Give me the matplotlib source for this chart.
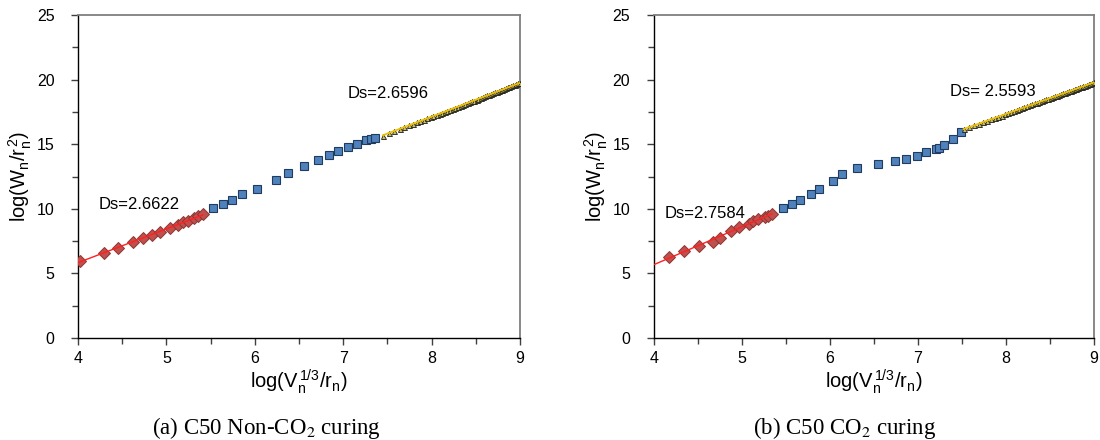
import numpy as np
import matplotlib
matplotlib.use("Agg")
import matplotlib.pyplot as plt
from matplotlib.ticker import MultipleLocator

plt.rcParams['font.family'] = ['Liberation Sans', 'DejaVu Sans']
plt.rcParams['mathtext.fontset'] = 'custom'
plt.rcParams['mathtext.rm'] = 'Liberation Sans'
plt.rcParams['mathtext.it'] = 'Liberation Sans'

# ---------------- Panel (a) C50 Non-CO2 curing ----------------
a_dia_x = [4.02, 4.29, 4.45, 4.62, 4.73, 4.84, 4.93, 5.04, 5.13, 5.19, 5.25, 5.31, 5.36, 5.41]
a_dia_y = [5.98, 6.58, 6.97, 7.43, 7.74, 7.97, 8.23, 8.49, 8.77, 8.95, 9.08, 9.26, 9.44, 9.60]

a_sq_x = [5.53, 5.64, 5.74, 5.86, 6.03, 6.24, 6.38, 6.56, 6.72, 6.84, 6.94, 7.06, 7.16, 7.26, 7.31, 7.36]
a_sq_y = [10.06, 10.40, 10.70, 11.12, 11.51, 12.23, 12.77, 13.31, 13.80, 14.19, 14.50, 14.81, 15.02, 15.30, 15.38, 15.50]

a_tri_x = [7.45, 7.52, 7.58, 7.64, 7.69, 7.74, 7.79, 7.83, 7.87, 7.91, 7.95, 7.99, 8.02, 8.06,
           8.09, 8.12, 8.15, 8.18, 8.21, 8.24, 8.27, 8.30, 8.33, 8.35, 8.38, 8.41, 8.43, 8.46,
           8.48, 8.51, 8.53, 8.56, 8.58, 8.60, 8.63, 8.65, 8.67, 8.69, 8.72, 8.74, 8.76, 8.78,
           8.80, 8.82, 8.84, 8.86, 8.88, 8.90, 8.92, 8.94, 8.96, 8.98, 9.00]
a_tri_y = [15.66, 15.88, 16.04, 16.20, 16.33, 16.47, 16.58, 16.70, 16.79, 16.90, 17.01, 17.11, 17.18, 17.29,
           17.37, 17.45, 17.53, 17.60, 17.68, 17.76, 17.83, 17.91, 17.99, 18.05, 18.12, 18.19, 18.25, 18.33,
           18.38, 18.46, 18.51, 18.59, 18.64, 18.70, 18.78, 18.83, 18.88, 18.94, 19.02, 19.07, 19.12, 19.17,
           19.23, 19.28, 19.33, 19.39, 19.44, 19.49, 19.55, 19.60, 19.65, 19.70, 19.76]

a_ds_low = "Ds=2.6622"
a_ds_high = "Ds=2.6596"

# ---------------- Panel (b) C50 CO2 curing ----------------
b_dia_x = [4.17, 4.34, 4.51, 4.67, 4.75, 4.87, 4.97, 5.08, 5.13, 5.18, 5.26, 5.30, 5.34]
b_dia_y = [6.27, 6.76, 7.12, 7.43, 7.76, 8.26, 8.59, 8.85, 9.03, 9.19, 9.37, 9.47, 9.62]

b_sq_x = [5.47, 5.57, 5.66, 5.78, 5.88, 6.03, 6.14, 6.31, 6.55, 6.74, 6.86, 6.99, 7.09, 7.20, 7.24, 7.30, 7.40, 7.49]
b_sq_y = [10.06, 10.35, 10.70, 11.17, 11.56, 12.15, 12.73, 13.13, 13.44, 13.68, 13.85, 14.11, 14.38, 14.65, 14.74, 14.96, 15.40, 15.94]

b_tri_x = [7.52, 7.58, 7.64, 7.69, 7.74, 7.79, 7.83, 7.87, 7.91, 7.95, 7.99, 8.02, 8.06, 8.09,
           8.12, 8.15, 8.18, 8.21, 8.24, 8.27, 8.30, 8.33, 8.35, 8.38, 8.41, 8.43, 8.46, 8.48,
           8.51, 8.53, 8.56, 8.58, 8.60, 8.63, 8.65, 8.67, 8.69, 8.72, 8.74, 8.76, 8.78, 8.80,
           8.82, 8.84, 8.86, 8.88, 8.90, 8.92, 8.94, 8.96, 8.98, 9.00]
b_tri_y = [16.15, 16.31, 16.46, 16.58, 16.71, 16.83, 16.93, 17.03, 17.12, 17.22, 17.32, 17.39, 17.49, 17.56,
           17.64, 17.71, 17.79, 17.86, 17.93, 18.01, 18.08, 18.16, 18.20, 18.28, 18.35, 18.40, 18.47, 18.52,
           18.59, 18.64, 18.71, 18.76, 18.81, 18.88, 18.93, 18.98, 19.02, 19.10, 19.14, 19.19, 19.24, 19.29,
           19.34, 19.39, 19.43, 19.48, 19.53, 19.58, 19.63, 19.68, 19.73, 19.80]

b_ds_low = "Ds=2.7584"
b_ds_high = "Ds= 2.5593"

captions = ["(a) C50 Non-CO$_2$ curing", "(b) C50 CO$_2$ curing"]

fig = plt.figure(figsize=(11, 4.4), dpi=100)
ax_a = fig.add_axes([0.0709, 0.2318, 0.4018, 0.7341])
ax_b = fig.add_axes([0.5945, 0.2318, 0.4000, 0.7341])


def draw(ax, dx, dy, sx, sy, tx, ty, lab_lo, pos_lo, lab_hi, pos_hi):
    ax.plot(sx, sy, 's', ms=5.2, mfc='#4f81bd', mec='#1f3b5e', mew=0.8, zorder=3)
    ax.plot(dx, dy, 'D', ms=6.3, mfc='#c0504d', mec='#8c3532', mew=0.7, zorder=3)
    ax.plot(tx, ty, '^', ms=3.6, mfc='#c8c060', mec='#1a1a1a', mew=0.6, zorder=3)
    # linear fits
    p1 = np.polyfit(dx, dy, 1)
    xx1 = np.array([4.0, max(dx)])
    ax.plot(xx1, np.polyval(p1, xx1), '-', color='#ff2020', lw=1.0, zorder=4)
    p2 = np.polyfit(tx, ty, 1)
    xx2 = np.array([min(tx), max(tx)])
    ax.plot(xx2, np.polyval(p2, xx2), '-', color='#f0c000', lw=1.3, zorder=4)

    ax.text(pos_lo[0], pos_lo[1], lab_lo, fontsize=12, va='center', ha='left')
    ax.text(pos_hi[0], pos_hi[1], lab_hi, fontsize=12, va='center', ha='left')

    ax.set_xlim(4, 9)
    ax.set_ylim(0, 25)
    ax.xaxis.set_major_locator(MultipleLocator(1))
    ax.xaxis.set_minor_locator(MultipleLocator(0.5))
    ax.yaxis.set_major_locator(MultipleLocator(5))
    ax.yaxis.set_minor_locator(MultipleLocator(2.5))
    ax.tick_params(which='both', direction='out', color='#404040', width=1.0)
    ax.tick_params(which='major', length=5, labelsize=11.5)
    ax.tick_params(axis='y', which='major', pad=12)
    ax.tick_params(axis='x', which='major', pad=4)
    ax.tick_params(which='minor', length=4)
    for side in ['left', 'bottom']:
        ax.spines[side].set_color('#000000')
        ax.spines[side].set_linewidth(1.0)
    for side in ['top', 'right']:
        ax.spines[side].set_color('#7f7f7f')
        ax.spines[side].set_linewidth(1.3)
    ax.set_xlabel(r'$\mathrm{log(V_n^{\,1/3}/r_n)}$', fontsize=14.5, labelpad=1)
    ax.set_ylabel(r'$\mathrm{log(W_n/r_n^{\,2})}$', fontsize=14.5, labelpad=2)


draw(ax_a, a_dia_x, a_dia_y, a_sq_x, a_sq_y, a_tri_x, a_tri_y,
     a_ds_low, (4.23, 10.37), a_ds_high, (7.05, 18.96))
draw(ax_b, b_dia_x, b_dia_y, b_sq_x, b_sq_y, b_tri_x, b_tri_y,
     b_ds_low, (4.125, 9.67), b_ds_high, (7.36, 19.1))

fig.text(0.242, 0.027, captions[0], family=['Liberation Serif'], fontsize=16.5,
         ha='center', va='center', math_fontfamily='stix')
fig.text(0.768, 0.027, captions[1], family=['Liberation Serif'], fontsize=16.5,
         ha='center', va='center', math_fontfamily='stix')

fig.savefig('out.png', dpi=100)
